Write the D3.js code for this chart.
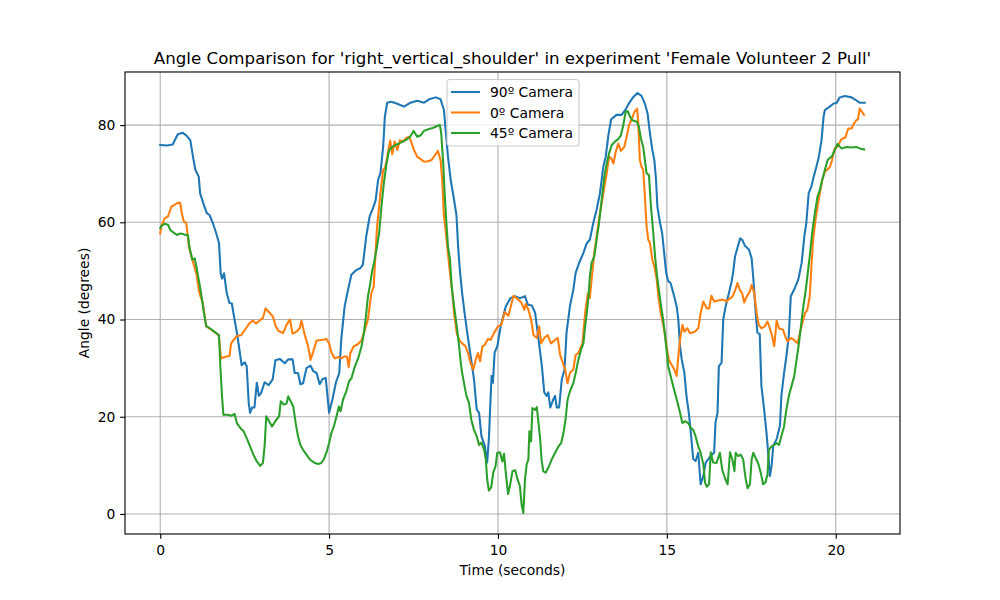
<!DOCTYPE html>
<html>
<head>
<meta charset="utf-8">
<script src="https://cdn.jsdelivr.net/npm/d3@7"></script>
<style>
  body { margin: 0; background: #fff; }
  svg { font-family: "DejaVu Sans", sans-serif; }
</style>
</head>
<body>
<svg id="chart" width="1000" height="600"></svg>
<script>
// series: time in seconds, angle in degrees
var cam90Time = [0,0.2,0.37,0.52,0.67,0.77,0.89,0.97,1.04,1.14,1.18,1.29,1.38,1.46,1.56,1.66,1.74,1.79,1.83,1.89,1.97,2.05,2.12,2.2,2.27,2.33,2.41,2.5,2.56,2.62,2.66,2.72,2.79,2.86,2.92,2.99,3.09,3.21,3.33,3.41,3.54,3.69,3.79,3.92,3.98,4.08,4.15,4.23,4.33,4.45,4.53,4.63,4.72,4.8,4.9,5.0,5.1,5.2,5.3,5.36,5.46,5.56,5.66,5.79,5.93,6.0,6.1,6.2,6.3,6.38,6.45,6.52,6.6,6.65,6.72,6.84,7.02,7.22,7.41,7.61,7.81,7.96,8.16,8.3,8.4,8.45,8.52,8.6,8.7,8.77,8.82,8.87,8.94,9.01,9.09,9.19,9.29,9.37,9.44,9.51,9.61,9.68,9.73,9.78,9.81,9.85,9.9,9.98,10.08,10.23,10.37,10.5,10.65,10.8,10.88,11.0,11.1,11.2,11.3,11.37,11.44,11.49,11.55,11.64,11.69,11.74,11.81,11.89,11.97,12.03,12.13,12.23,12.3,12.4,12.53,12.63,12.72,12.82,12.92,13.02,13.12,13.19,13.27,13.35,13.44,13.51,13.66,13.76,13.88,14.01,14.13,14.25,14.35,14.43,14.5,14.57,14.63,14.68,14.72,14.8,14.86,14.92,14.98,15.04,15.11,15.19,15.29,15.34,15.39,15.44,15.52,15.58,15.65,15.71,15.78,15.85,15.93,16.0,16.08,16.15,16.23,16.3,16.4,16.44,16.5,16.54,16.62,16.67,16.74,16.84,16.92,16.96,17.02,17.09,17.17,17.23,17.31,17.43,17.51,17.56,17.63,17.68,17.75,17.8,17.88,17.95,18.0,18.05,18.1,18.15,18.25,18.35,18.39,18.47,18.54,18.61,18.67,18.79,18.89,18.99,19.07,19.13,19.2,19.28,19.35,19.43,19.5,19.58,19.64,19.68,19.82,19.95,20.02,20.12,20.27,20.47,20.61,20.71,20.86];
var cam90Angle = [75.9,75.8,76.0,78.1,78.4,77.9,76.9,73.5,70.8,69.4,66,63.6,61.9,61.5,59.8,57.7,55.7,49.5,48.4,49.5,45.4,43.4,43.3,40,37.3,34.5,30.6,31.2,30.4,22.9,20.8,21.9,21.9,27,24.3,24.9,27.1,26.5,27.7,31.6,31.9,31,31.8,31.8,29,29,26.7,26.9,30,30.5,29.4,29,26.7,27.7,28,20.8,23.6,27,29,35.9,42.7,46.1,49.2,50.1,50.6,51.3,57.1,61.2,62.9,64.6,68.7,70.1,75.5,81.7,84.6,84.8,84.4,83.8,84.6,85,84.6,85.3,85.7,85.3,83.1,79,73.5,68.7,64.6,61.5,55,50.3,45.4,41.4,37.3,32.5,27.7,21.5,20.8,16,14,10.6,15.4,23.6,28.4,27,33.2,34.5,38.6,42.7,44.4,44.8,44.4,44.8,43.1,42.9,41.4,35.9,30.4,25,24.3,25,21.9,23.6,24.3,21.9,21.9,27.7,29.7,37.3,42.7,46.1,49.6,51.6,53.7,55.7,56.4,59.8,62.6,66,71.5,73.5,78,81.2,81.7,82.1,82.1,83,84.5,85.8,86.6,86,84.4,82.4,78.3,74.9,72.8,68.7,63.2,59.8,57.8,53.7,49.6,47.9,47.5,45.5,42.7,40,34.5,31.8,29,24.3,20.8,16.7,11.3,10.9,12.6,6.1,7.8,10.6,11.3,12,12.6,18.8,20.8,30.4,31.1,40,42.7,45.5,47.9,49.6,53,54.7,56.7,56.4,55.2,54.4,52.6,48.5,41.4,37.3,37,26.3,21.5,16.7,12.6,7.8,9.9,14,15.4,18.2,24.3,29,32.5,36.6,44.8,46.5,48.2,51.6,57.1,59.9,66,67.4,69.4,71.5,73.5,76.9,81.7,83.1,83.8,84.5,84.5,85.7,86,85.7,85.1,84.6,84.6];

var cam0Time = [0,0.03,0.13,0.23,0.33,0.42,0.52,0.59,0.64,0.7,0.77,0.85,0.95,1.07,1.16,1.26,1.36,1.51,1.73,1.8,1.95,2.05,2.1,2.25,2.4,2.54,2.64,2.74,2.84,2.96,3.04,3.12,3.21,3.34,3.42,3.5,3.64,3.74,3.84,3.92,4.03,4.13,4.18,4.28,4.38,4.45,4.53,4.63,4.77,4.92,5.0,5.07,5.17,5.27,5.36,5.46,5.53,5.58,5.63,5.73,5.83,5.96,6.06,6.15,6.2,6.25,6.32,6.38,6.42,6.47,6.53,6.6,6.65,6.7,6.77,6.81,6.87,6.94,7.02,7.1,7.2,7.27,7.37,7.43,7.51,7.61,7.71,7.81,7.91,8.03,8.13,8.22,8.3,8.35,8.4,8.45,8.52,8.58,8.65,8.7,8.78,8.85,8.94,9.04,9.11,9.19,9.27,9.34,9.41,9.47,9.54,9.61,9.7,9.78,9.88,10.0,10.1,10.2,10.31,10.46,10.6,10.7,10.78,10.82,10.9,10.98,11.05,11.15,11.22,11.28,11.37,11.47,11.57,11.69,11.77,11.84,11.94,11.99,12.06,12.13,12.23,12.3,12.38,12.5,12.58,12.66,12.72,12.79,12.85,12.92,12.99,13.07,13.15,13.22,13.29,13.35,13.42,13.48,13.56,13.64,13.74,13.81,13.88,13.96,14.04,14.12,14.15,14.2,14.25,14.3,14.35,14.4,14.45,14.5,14.57,14.63,14.7,14.75,14.82,14.86,14.92,14.99,15.06,15.14,15.22,15.29,15.34,15.39,15.46,15.52,15.61,15.68,15.83,15.93,16.0,16.08,16.18,16.25,16.32,16.4,16.52,16.67,16.77,16.84,16.94,17.01,17.09,17.16,17.23,17.29,17.36,17.46,17.51,17.59,17.66,17.72,17.8,17.9,17.98,18.05,18.12,18.18,18.25,18.32,18.44,18.51,18.57,18.67,18.77,18.87,18.94,19.01,19.09,19.16,19.23,19.28,19.33,19.4,19.46,19.53,19.6,19.68,19.76,19.83,19.89,19.97,20.05,20.15,20.22,20.29,20.37,20.47,20.54,20.61,20.66,20.71,20.78,20.84];
var cam0Angle = [57.7,59.1,60.8,61.2,63.2,63.6,64,64,61.8,60.1,59.9,55,52.3,49.5,45.4,43.4,38.6,37.9,36.8,32,32.4,32.5,35.1,36.5,36.8,38.2,39.2,39.8,39.2,39.9,40.3,42.3,41.6,40.6,38.6,37.7,37.2,38.9,40,37.1,37.5,38.2,39.8,36.8,34.5,31.7,33.4,35.7,35.8,36,35.1,33.2,32,32.3,32,32.4,32.4,30.2,33.1,34.5,34.8,35.7,37.9,40,42.7,45.4,46.8,54.3,59.1,62.5,66.6,70.8,71.1,72.5,75.5,76.8,74,76.6,74.9,76.9,76.6,77.3,77.6,76.6,74.9,73.5,73,72.5,72.5,72.8,73.8,74.7,72.8,68.7,61.2,58.4,53.6,49.5,45.4,41.3,37.2,35.8,35.1,34.5,33.1,31,29.7,31.7,33.1,31.4,34.5,34.8,36,35.8,37.2,38.6,38.9,41.5,40.8,44.9,44.1,43.4,42,43.2,42,40,36.8,36.2,38.6,35.1,36.2,36.8,35.1,35.8,36.2,32.7,30.7,29.7,26.9,29,29.7,32.7,33.1,35.1,41.3,45.4,44.4,49.5,53.6,57.1,60.5,63.9,67.3,70.1,73.5,73.2,72.1,74.3,76.2,74.7,75.5,77.6,80,81.2,82.7,83.4,81,72.8,71.4,70.8,65.3,59.1,56.4,55.7,52.3,50.9,48.2,44.7,41.3,40,37.9,34.5,31.7,30.7,29.7,28.4,32.4,35.8,38.9,37.5,38.2,37.2,37.5,38.2,41.3,43.7,42.3,42.3,44.9,43.7,43.9,44.1,43.7,44.2,44.7,45.8,47.5,46.1,45.4,43.5,44.7,45.8,47.1,45.4,41.3,38.9,38.2,38.6,39.6,38.2,36.5,34.5,39.8,38.2,37.9,36.5,35.5,36.2,35.8,35.1,37.2,39.2,41.3,42,44.7,50.9,56.4,60.5,63.2,66,68.7,70.4,70.9,71.4,72.8,75.2,75.5,76.9,77.3,77.5,79.3,79.3,80.3,81,81.2,83.4,82.7,82.1];

var cam45Time = [0,0.03,0.13,0.23,0.3,0.39,0.49,0.59,0.67,0.75,0.82,0.87,0.95,1.02,1.07,1.14,1.21,1.28,1.36,1.51,1.66,1.74,1.78,1.83,1.87,2.0,2.1,2.2,2.27,2.37,2.47,2.56,2.66,2.76,2.86,2.96,3.04,3.09,3.14,3.22,3.31,3.44,3.52,3.57,3.66,3.74,3.79,3.86,3.94,4.01,4.08,4.15,4.23,4.33,4.43,4.55,4.67,4.77,4.84,4.92,5.0,5.07,5.14,5.22,5.29,5.34,5.41,5.51,5.59,5.66,5.76,5.86,5.96,6.03,6.08,6.15,6.22,6.28,6.33,6.4,6.48,6.55,6.62,6.7,6.78,6.87,6.97,7.12,7.27,7.4,7.5,7.61,7.71,7.81,7.91,8.01,8.11,8.2,8.28,8.32,8.38,8.42,8.48,8.52,8.58,8.63,8.7,8.78,8.85,8.9,8.94,9.01,9.07,9.14,9.21,9.29,9.37,9.44,9.51,9.59,9.64,9.68,9.73,9.8,9.86,9.93,9.98,10.06,10.13,10.18,10.23,10.3,10.36,10.43,10.51,10.58,10.65,10.7,10.75,10.8,10.85,10.9,10.93,10.98,11.02,11.1,11.15,11.2,11.25,11.29,11.34,11.41,11.49,11.59,11.69,11.79,11.87,11.94,12.0,12.06,12.13,12.23,12.3,12.38,12.46,12.53,12.58,12.63,12.68,12.72,12.77,12.85,12.92,12.99,13.07,13.15,13.22,13.29,13.37,13.46,13.56,13.64,13.71,13.78,13.84,13.91,13.98,14.11,14.17,14.23,14.3,14.35,14.4,14.47,14.53,14.6,14.65,14.7,14.75,14.83,14.89,14.94,14.99,15.04,15.14,15.24,15.32,15.39,15.46,15.54,15.63,15.71,15.78,15.85,15.93,16.0,16.08,16.13,16.18,16.25,16.3,16.37,16.47,16.57,16.64,16.72,16.8,16.87,16.94,17.0,17.04,17.11,17.19,17.26,17.33,17.39,17.46,17.51,17.56,17.63,17.7,17.78,17.85,17.92,17.98,18.02,18.1,18.18,18.25,18.32,18.39,18.47,18.54,18.61,18.69,18.77,18.84,18.91,18.97,19.04,19.1,19.16,19.23,19.3,19.38,19.46,19.53,19.6,19.68,19.76,19.82,19.89,19.97,20.05,20.17,20.32,20.47,20.61,20.71,20.84];
var cam45Angle = [58.8,59.2,59.7,59.5,58.4,57.9,57.4,57.7,57.6,57.4,57.4,54.7,52.3,52.6,50.9,48.2,45.4,42,38.7,38,37.2,36.8,30.4,24.2,20.4,20.4,20.2,20.6,18.7,17.7,17,15.6,13.9,12.2,10.8,9.9,10.5,13.9,20.1,19.1,18,19.4,20.1,23.2,22.5,22.7,24.2,23.2,22.1,18.7,16,14.2,13.2,12.2,11.2,10.6,10.3,10.5,11.2,12.6,14.6,16.7,18,20.1,22.1,21.1,23.5,25.2,27.3,27.9,30.3,32,34.5,37.2,40,44.7,47.5,50.2,51.7,54.3,57.7,63.2,68,72.1,74.9,75.5,75.9,76.4,76.9,77.6,78.8,77.6,77.9,78.8,79.1,79.3,79.5,79.8,80,78.3,72.1,66,59.1,55,52.3,46.8,42.7,38.6,34.5,31,29,26.3,24.2,22.9,19.4,17.3,16,14.2,14.7,13.2,11.2,7.1,4.8,5.5,8.5,9.9,12.6,12.7,10.8,12.4,8.5,4.1,6,8.8,9,7.1,5.7,1.9,0.2,7.1,10.2,11.2,17,14.9,21.8,21.4,22,18.7,15.3,11.2,8.8,8.5,9.5,11.2,12.6,13.9,14.6,16.7,19.4,23.5,25.2,26.9,29,31.7,33.8,35.1,38.6,41.3,44.7,48.8,51.6,53,56.4,59.8,64.6,69.4,72.1,74.2,75.9,76.6,77.1,77.9,80,82.7,82.9,81.7,81,80.7,79.7,77.3,75.5,72.8,70.1,69.7,63.2,57.7,53,49.5,46.8,42.7,40,37.2,33.8,30.4,27.6,24.9,22.8,20.8,18.7,19.1,18.7,17.7,17.3,16,13.9,12.6,10.2,6.5,5.6,6.1,12.7,10.6,10.5,12.6,9.1,7.4,6.1,12.7,11.2,8.8,12.6,11.9,12.2,11.2,7.4,5.3,6.1,11.2,12.6,11.5,10.5,8.5,6.1,6.5,8.1,13.2,13.9,14.2,14.6,14.2,16,18,21.5,24.2,26.3,28.3,31.7,35.1,38.6,42.7,45.4,48.8,53,57.7,61.8,65.3,66.6,68.7,70.8,72.8,73.2,73.6,74.9,76.1,75.2,75.5,75.4,75.5,75.2,75];

var seriesNames = ["90º Camera", "0º Camera", "45º Camera"];
var seriesColors = ["#1f77b4", "#ff7f0e", "#2ca02c"];
var xTicks = [0, 5, 10, 15, 20];
var yTicks = [0, 20, 40, 60, 80];

var titleText = "Angle Comparison for 'right_vertical_shoulder' in experiment 'Female Volunteer 2 Pull'";

// sizes in px for a 100 dpi figure
var fontSmall = "13.89px", fontTitle = "16.67px"
var lw = 2.08, thin = 1.11

var margin = {left: 125, right: 100, top: 72, bottom: 66}
var width = 1000 - margin.left - margin.right
var height = 600 - margin.top - margin.bottom

var svg = d3.select("#chart")
var g = svg.append("g").attr("transform", `translate(${margin.left},${margin.top})`)

var series = [
	{name: seriesNames[0], color: seriesColors[0], t: cam90Time, v: cam90Angle},
	{name: seriesNames[1], color: seriesColors[1], t: cam0Time, v: cam0Angle},
	{name: seriesNames[2], color: seriesColors[2], t: cam45Time, v: cam45Angle}
]
series.forEach(s => s.points = s.t.map((t, i) => [t, s.v[i]]))

// 5% padding around data range, like matplotlib
var allT = d3.merge(series.map(s => s.t))
var allV = d3.merge(series.map(s => s.v))
var tExt = d3.extent(allT), vExt = d3.extent(allV)
var tPad = (tExt[1] - tExt[0]) * 0.05, vPad = (vExt[1] - vExt[0]) * 0.05

var x = d3.scaleLinear().domain([tExt[0] - tPad, tExt[1] + tPad]).range([0, width])
var y = d3.scaleLinear().domain([vExt[0] - vPad, vExt[1] + vPad]).range([height, 0])

// grid
g.append("g").selectAll("line").data(xTicks).join("line")
	.attr("x1", d => x(d)).attr("x2", d => x(d))
	.attr("y1", 0).attr("y2", height)
	.attr("stroke", "#b0b0b0").attr("stroke-width", thin)
g.append("g").selectAll("line").data(yTicks).join("line")
	.attr("x1", 0).attr("x2", width)
	.attr("y1", d => y(d)).attr("y2", d => y(d))
	.attr("stroke", "#b0b0b0").attr("stroke-width", thin)

g.append("clipPath").attr("id", "clip")
	.append("rect").attr("width", width).attr("height", height)

var line = d3.line().x(d => x(d[0])).y(d => y(d[1]))

g.append("g").attr("clip-path", "url(#clip)")
	.selectAll("path").data(series).join("path")
	.attr("d", d => line(d.points))
	.attr("fill", "none")
	.attr("stroke", d => d.color)
	.attr("stroke-width", lw)
	.attr("stroke-linejoin", "round")
	.attr("stroke-linecap", "square")

// axes
var xAxis = g.append("g").attr("transform", `translate(0,${height})`)
	.call(d3.axisBottom(x).tickValues(xTicks).tickSizeOuter(0).tickSize(4.86).tickPadding(4.86))
var yAxis = g.append("g")
	.call(d3.axisLeft(y).tickValues(yTicks).tickSizeOuter(0).tickSize(4.86).tickPadding(4.86))

;[xAxis, yAxis].forEach(a => {
	a.select(".domain").remove()
	a.selectAll(".tick line").attr("stroke", "#000").attr("stroke-width", thin)
	a.selectAll(".tick text").attr("fill", "#000")
		.style("font-family", "DejaVu Sans").style("font-size", fontSmall)
})
xAxis.selectAll(".tick text").attr("dy", "0.78em")

// frame
g.append("rect").attr("width", width).attr("height", height)
	.attr("fill", "none").attr("stroke", "#000").attr("stroke-width", thin)

// labels
svg.append("text").attr("x", margin.left + width / 2).attr("y", 64)
	.attr("text-anchor", "middle").style("font-size", fontTitle).text(titleText)
svg.append("text").attr("x", margin.left + width / 2).attr("y", 575)
	.attr("text-anchor", "middle").style("font-size", fontSmall).text("Time (seconds)")
svg.append("text").attr("transform", `translate(89,${margin.top + height / 2}) rotate(-90)`)
	.attr("text-anchor", "middle").style("font-size", fontSmall).text("Angle (degrees)")

// legend
var legend = svg.append("g").attr("transform", "translate(447,79.5)")
legend.append("rect").attr("width", 132).attr("height", 66.5).attr("rx", 3)
	.attr("fill", "#fff").attr("fill-opacity", 0.8)
	.attr("stroke", "#cccccc").attr("stroke-width", thin)
var rows = legend.selectAll("g.row").data(series).join("g").attr("class", "row")
	.attr("transform", (d, i) => `translate(0,${12.5 + i * 20.5})`)
rows.append("line").attr("x1", 4).attr("x2", 33)
	.attr("stroke", d => d.color).attr("stroke-width", lw)
rows.append("text").attr("x", 43).attr("y", 5)
	.style("font-size", fontSmall).text(d => d.name)
</script>
</body>
</html>
